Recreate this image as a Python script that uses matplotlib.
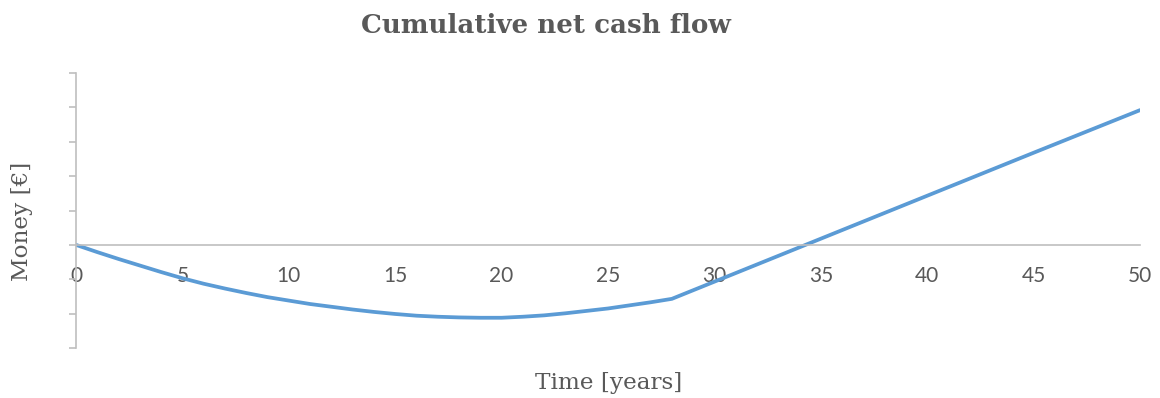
import matplotlib
matplotlib.use("Agg")
import matplotlib.pyplot as plt

# cumulative net cash flow, EUR
years = [0, 1, 2, 3, 4, 5, 6, 7, 8, 9, 10, 11, 12, 13, 14, 15, 16, 17, 18, 19,
         20, 21, 22, 23, 24, 25, 26, 27, 28, 29, 30, 35, 40, 45, 50]
cash = [0, -21000, -41000, -60000, -79000, -97000, -113000, -127000, -140000,
        -152000, -162000, -172000, -180000, -188000, -195000, -201000, -206000,
        -209000, -211000, -212000, -212000, -209000, -205000, -199000, -192000,
        -185000, -176000, -167000, -157000, -132000, -107000, 18000, 143000,
        268000, 392000]

y_ticks = [-300000, -200000, -100000, 0, 100000, 200000, 300000, 400000, 500000]
x_ticks = [0, 5, 10, 15, 20, 25, 30, 35, 40, 45, 50]

GREY = "#595959"
AXIS = "#BFBFBF"

fig = plt.figure(figsize=(11.6, 3.98), dpi=100)
ax = fig.add_axes([0.0655, 0.1256, 0.9173, 0.691])

ax.plot(years, cash, color="#5B9BD5", lw=2.7, solid_capstyle="round")

for s in ("top", "right"):
    ax.spines[s].set_visible(False)
# x axis runs through zero, y axis on the left edge
ax.spines["bottom"].set_position(("data", 0))
ax.spines["bottom"].set_color(AXIS)
ax.spines["left"].set_color(AXIS)
ax.spines["bottom"].set_linewidth(1.2)
ax.spines["left"].set_linewidth(1.2)

ax.set_xlim(0, 50)
ax.set_ylim(-300000, 500000)
ax.set_yticks(y_ticks)
ax.set_yticklabels([])
ax.set_xticks(x_ticks)
ax.set_xticklabels([str(t) for t in x_ticks])

ax.tick_params(axis="x", length=0, pad=15, labelsize=15, labelcolor=GREY,
               labelfontfamily="Lato")
ax.tick_params(axis="y", length=5, width=1.2, color=AXIS, direction="out")

fig.text(0.4707, 0.937, "Cumulative net cash flow", ha="center", va="center",
         family="DejaVu Serif", fontweight="bold", fontsize=18.8, color=GREY)
fig.text(0.019, 0.445, "Money [\u20ac]", rotation=90, ha="center", va="center",
         family="DejaVu Serif", fontsize=16.7, color=GREY)
fig.text(0.525, 0.038, "Time [years]", ha="center", va="center",
         family="DejaVu Serif", fontsize=16.7, color=GREY)

fig.savefig("out.png", dpi=100)
